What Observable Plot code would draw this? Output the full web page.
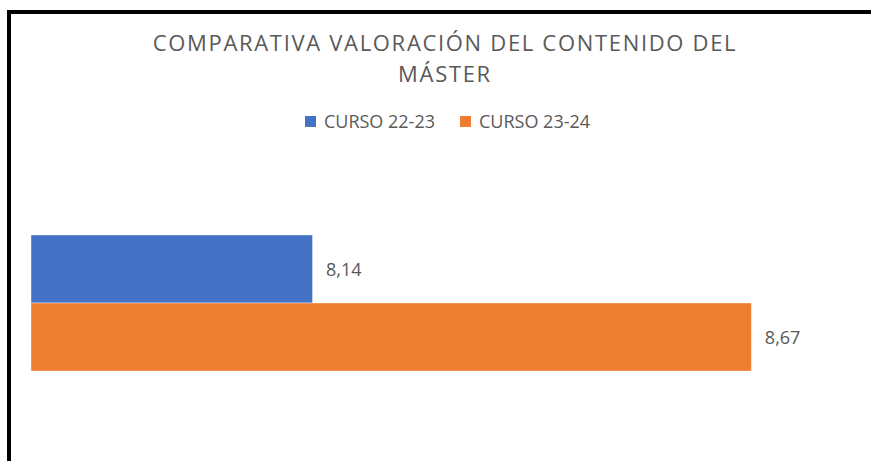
<!DOCTYPE html>
<html>
<head>
<meta charset="utf-8">
<script src="https://cdn.jsdelivr.net/npm/d3@7"></script>
<script src="https://cdn.jsdelivr.net/npm/@observablehq/plot@0.6"></script>
<style>
  body { margin: 0; background: #fff; }
  #chart { position: relative; width: 871px; height: 461px; overflow: hidden; background: #fff; font-family: "Open Sans", sans-serif; color: #595959; }
  #frame { position: absolute; left: 7px; top: 10px; right: -10px; bottom: -10px; border-left: 4px solid #000; border-top: 4px solid #000; pointer-events: none; z-index: 3; }
  #title { position: absolute; left: 11px; width: 868px; top: 27px; text-align: center; font-size: 22px; line-height: 31px; letter-spacing: 1.68px; z-index: 2; }
  #legend { position: absolute; left: 0; width: 895px; top: 108.5px; display: flex; justify-content: center; gap: 25px; font-size: 18px; line-height: 25px; z-index: 2; }
  .item { display: inline-flex; align-items: center; }
  .sw { display: inline-block; width: 11px; height: 11px; margin-right: 8px; }
  #plot { position: absolute; left: 0; top: 0; z-index: 1; }
</style>
</head>
<body>
<div id="chart">
  <div id="frame"></div>
  <div id="title"></div>
  <div id="legend"></div>
  <div id="plot"></div>
</div>
<script>
const titleLines = ["COMPARATIVA VALORACIÓN DEL CONTENIDO DEL", "MÁSTER"];
const series = ["CURSO 22-23", "CURSO 23-24"];
const values = [8.14, 8.67];
const colors = ["#4472C4", "#ED7D31"];
const axisMin = 7.8;
const axisMax = 8.8;

const fmt = v => v.toFixed(2).replace(".", ",");

document.getElementById("title").innerHTML = titleLines.join("<br>");

const legend = document.getElementById("legend");
series.forEach((s, i) => {
  const it = document.createElement("span");
  it.className = "item";
  const sw = document.createElement("span");
  sw.className = "sw";
  sw.style.background = colors[i];
  it.appendChild(sw);
  it.appendChild(document.createTextNode(s));
  legend.appendChild(it);
});

const data = series.map((s, i) => ({serie: s, value: values[i]}));

const chart = Plot.plot({
  width: 871,
  height: 461,
  marginTop: 0, marginBottom: 0, marginLeft: 0, marginRight: 0,
  style: {background: "transparent", fontFamily: "Open Sans, sans-serif"},
  x: {domain: [axisMin, axisMax], range: [31, 859], axis: null},
  y: {domain: series, range: [234, 371], padding: 0, axis: null},
  color: {domain: series, range: colors},
  marks: [
    Plot.barX(data, {y: "serie", x1: () => axisMin, x2: "value", fill: "serie", stroke: "#ffffff", strokeOpacity: 0.5, strokeWidth: 0.75}),
    Plot.text(data, {y: "serie", x: "value", text: d => fmt(d.value), dx: 13, dy: 1, textAnchor: "start", fontSize: 18, fill: "#595959"})
  ]
});
document.getElementById("plot").appendChild(chart);
</script>
</body>
</html>
